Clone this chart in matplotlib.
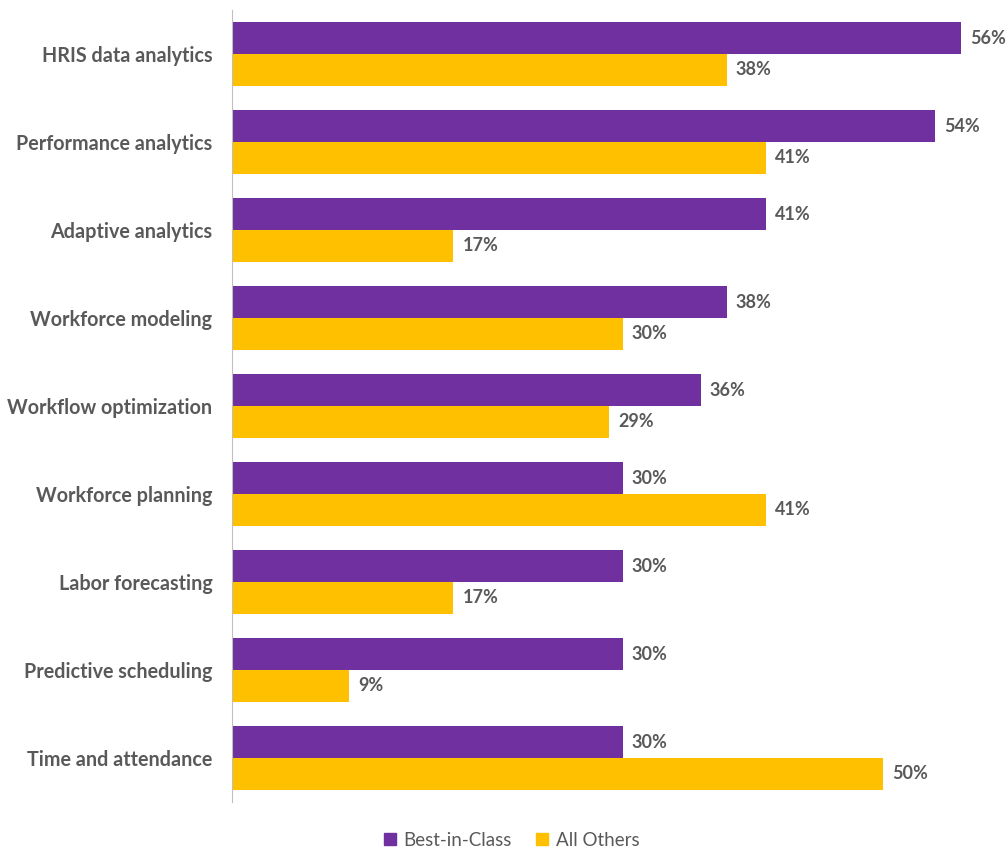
import numpy as np
import matplotlib.pyplot as plt
from matplotlib.patches import Patch

categories = ["HRIS data analytics", "Performance analytics", "Adaptive analytics",
              "Workforce modeling", "Workflow optimization", "Workforce planning",
              "Labor forecasting", "Predictive scheduling", "Time and attendance"]
best = [56, 54, 41, 38, 36, 30, 30, 30, 30]
others = [38, 41, 17, 30, 29, 41, 17, 9, 50]

purple = "#7030A0"
gold = "#FFC000"
grey = "#595959"
plt.rcParams['font.family'] = ['Lato', 'DejaVu Sans']

fig = plt.figure(figsize=(10.07, 8.52), dpi=100)
ax = fig.add_axes([232/1007, 50/852, 768/1007, 792/852])

y = np.arange(len(categories))
h = 0.358
ax.barh(y - h/2, best, height=h, color=purple)
ax.barh(y + h/2, others, height=h, color=gold)

for i in range(len(categories)):
    ax.text(best[i] + 0.7, y[i] - h/2, f"{best[i]}%", va="center", ha="left",
            fontsize=13, fontweight="bold", color=grey)
    ax.text(others[i] + 0.7, y[i] + h/2, f"{others[i]}%", va="center", ha="left",
            fontsize=13, fontweight="bold", color=grey)

ax.set_ylim(len(categories) - 0.5, -0.5)
ax.set_xlim(0, 59)
ax.set_yticks(y)
ax.set_yticklabels(categories, fontsize=14.2, fontweight="bold", color=grey)
ax.tick_params(axis="y", length=0, pad=14)
ax.set_xticks([])
for s in ["top", "right", "bottom"]:
    ax.spines[s].set_visible(False)
ax.spines["left"].set_color("#BFBFBF")

handles = [Patch(color=purple, label="Best-in-Class"), Patch(color=gold, label="All Others")]
fig.legend(handles=handles, loc="center", bbox_to_anchor=(0.508, 1 - 840/852), ncol=2,
           frameon=False, fontsize=13.5, handlelength=0.65, handleheight=0.65,
           columnspacing=1.3, handletextpad=0.4, labelcolor=grey)

fig.savefig("out.png", dpi=100)
